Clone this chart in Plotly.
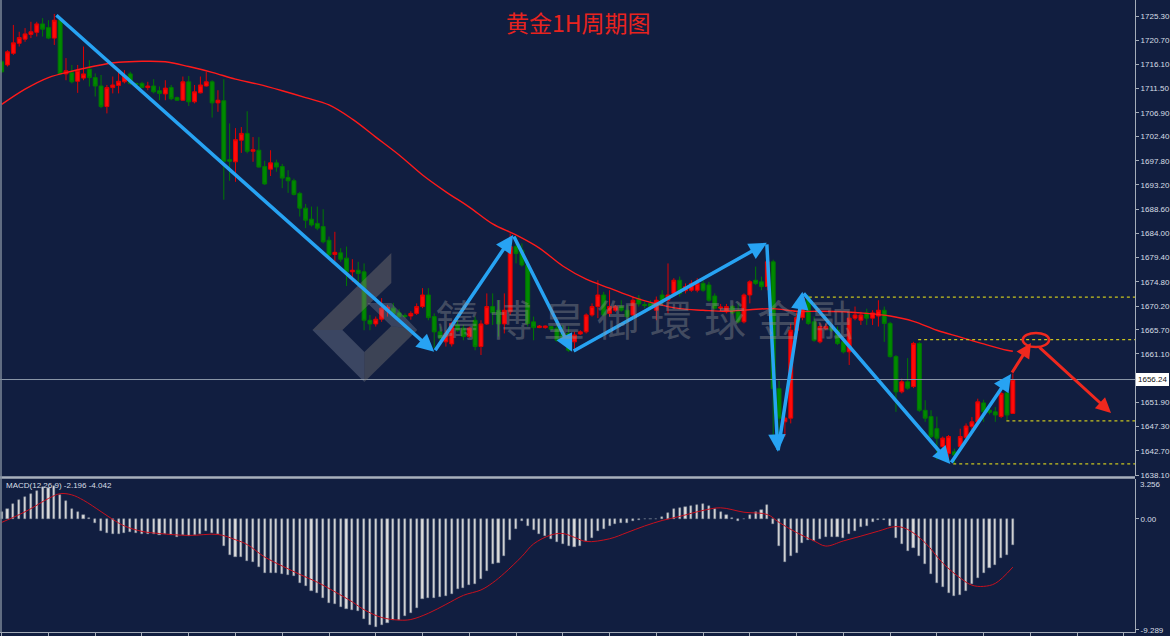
import plotly.graph_objects as go

# ---------------- data ----------------
open_ = [1716.6,1716.0,1718.2,1720.1,1720.9,1721.8,1722.2,1723.8,1723.1,1721.1,
1724.5,1714.3,1714.5,1712.9,1713.5,1715.2,1713.6,1712.0,1708.1,1711.7,
1712.1,1712.8,1714.3,1712.5,1712.5,1711.7,1712.0,1711.1,1710.5,1711.7,
1709.8,1709.3,1712.8,1709.0,1710.7,1712.0,1712.8,1708.8,1709.2,1698.0,
1697.6,1701.7,1703.0,1699.6,1699.8,1696.7,1696.2,1697.4,1696.7,1694.6,
1694.0,1691.6,1688.8,1686.7,1685.9,1685.3,1682.7,1680.0,1680.3,1679.3,
1676.7,1677.0,1676.7,1667.5,1666.8,1667.7,1669.4,1669.8,1668.9,1668.4,
1668.3,1668.8,1670.1,1672.3,1668.2,1665.3,1663.4,1663.0,1666.6,1666.0,
1664.4,1667.5,1662.5,1666.8,1670.1,1669.4,1666.8,1669.1,1681.5,1680.8,
1678.0,1667.2,1666.1,1666.1,1666.3,1666.0,1665.0,1665.0,1663.4,1664.9,
1665.3,1668.5,1670.1,1672.3,1668.8,1669.4,1670.1,1669.4,1668.5,1671.6,
1670.5,1670.7,1669.4,1672.3,1671.3,1672.6,1675.1,1673.1,1673.2,1673.2,
1674.5,1674.2,1672.1,1669.8,1669.1,1670.1,1669.1,1667.2,1672.3,1675.1,
1674.8,1673.9,1678.6,1654.5,1648.2,1648.9,1665.6,1668.0,1671.7,1667.2,
1663.4,1665.9,1666.3,1665.6,1663.4,1661.5,1667.9,1667.5,1668.9,1667.9,
1668.3,1669.4,1666.9,1660.6,1653.9,1655.8,1654.9,1663.1,1650.4,1649.2,
1646.9,1643.5,1642.2,1642.5,1643.5,1645.2,1647.3,1648.2,1651.8,1650.4,
1650.1,1649.2,1653.7,1649.8]

high = [1716.9,1718.8,1723.6,1722.3,1723.0,1724.2,1724.2,1724.9,1724.5,1725.7,
1724.9,1717.3,1716.0,1716.0,1719.5,1716.9,1714.4,1714.1,1712.2,1713.8,
1714.7,1715.0,1714.7,1712.6,1712.8,1712.8,1713.3,1711.9,1713.1,1712.2,
1710.0,1713.8,1713.9,1712.2,1713.8,1714.7,1713.1,1711.2,1713.3,1704.9,
1704.0,1704.2,1707.2,1702.3,1702.3,1697.8,1699.8,1698.0,1697.2,1696.0,
1694.4,1691.9,1689.6,1689.1,1689.1,1688.6,1683.4,1684.3,1681.2,1681.5,
1679.1,1678.6,1678.3,1668.5,1668.2,1671.7,1670.4,1670.8,1669.6,1668.8,
1669.2,1670.7,1673.6,1673.6,1668.8,1666.3,1665.6,1667.2,1667.5,1666.6,
1666.3,1668.2,1667.5,1672.6,1672.6,1671.3,1672.6,1684.0,1683.4,1682.1,
1678.9,1668.2,1666.6,1666.5,1666.4,1666.9,1666.6,1666.3,1665.3,1665.6,
1668.8,1670.7,1675.1,1672.9,1673.2,1670.4,1671.3,1670.4,1672.0,1672.3,
1671.0,1671.3,1672.0,1673.2,1678.3,1675.5,1675.8,1674.5,1675.1,1675.5,
1675.1,1674.8,1672.6,1670.6,1670.6,1670.4,1670.7,1672.6,1675.1,1677.7,
1675.8,1679.3,1679.0,1656.0,1649.2,1666.9,1669.0,1672.6,1672.3,1668.2,
1666.9,1666.9,1666.6,1666.3,1663.7,1668.8,1670.1,1669.1,1669.7,1669.4,
1671.3,1670.1,1667.2,1660.9,1656.4,1660.3,1663.4,1663.4,1652.3,1650.4,
1649.2,1645.4,1645.7,1643.1,1646.9,1647.9,1649.1,1652.6,1652.4,1651.2,
1651.0,1653.9,1653.9,1657.4]

low = [1714.5,1715.7,1717.9,1719.5,1720.4,1721.1,1721.4,1721.4,1720.9,1719.8,
1714.1,1713.1,1712.5,1710.7,1713.1,1711.9,1710.0,1707.8,1706.8,1710.6,
1710.6,1712.5,1712.2,1712.2,1711.6,1711.2,1710.6,1709.3,1709.3,1709.3,
1709.2,1709.2,1708.2,1708.7,1710.6,1711.9,1706.0,1707.1,1690.4,1694.0,
1693.8,1699.3,1699.2,1697.6,1696.5,1693.2,1694.9,1695.7,1692.6,1691.7,
1691.2,1687.2,1685.0,1685.3,1684.6,1682.1,1679.6,1678.6,1678.6,1674.0,
1674.8,1673.9,1665.6,1665.6,1666.3,1667.2,1668.2,1668.2,1667.6,1667.9,
1667.6,1668.5,1669.8,1667.5,1662.2,1663.4,1662.5,1662.5,1665.3,1663.7,
1664.1,1661.8,1660.9,1666.6,1666.6,1664.4,1665.0,1668.5,1678.3,1677.7,
1666.3,1663.7,1666.0,1665.9,1665.6,1663.4,1663.4,1661.5,1661.5,1664.7,
1665.0,1668.2,1667.9,1668.2,1668.2,1669.1,1669.1,1667.5,1668.2,1670.1,
1669.8,1669.4,1667.5,1670.4,1668.8,1672.3,1672.0,1672.6,1672.9,1672.8,
1672.9,1671.0,1669.5,1669.2,1668.8,1668.6,1666.9,1666.9,1670.7,1674.2,
1673.2,1673.2,1644.7,1645.4,1645.4,1647.9,1664.8,1667.5,1666.6,1663.4,
1663.1,1665.6,1665.3,1662.8,1661.2,1659.0,1667.5,1666.6,1666.6,1666.6,
1666.3,1663.4,1660.4,1650.1,1653.6,1654.3,1654.6,1650.1,1648.2,1645.1,
1641.0,1641.6,1640.9,1640.3,1643.2,1645.0,1646.0,1647.9,1648.2,1649.6,
1648.2,1648.9,1648.5,1649.7]

close = [1714.7,1718.5,1720.2,1721.2,1721.9,1722.3,1723.8,1722.8,1721.1,1724.5,
1714.3,1714.9,1712.8,1715.0,1714.3,1713.6,1712.0,1708.1,1711.7,1712.2,
1712.9,1713.8,1712.5,1712.3,1711.7,1712.0,1710.9,1710.6,1711.6,1709.6,
1709.3,1712.8,1709.0,1710.9,1712.2,1712.8,1708.8,1709.3,1697.7,1697.7,
1701.8,1703.0,1699.6,1699.9,1696.6,1693.4,1697.4,1696.6,1694.5,1694.0,
1691.4,1688.8,1686.5,1685.6,1685.0,1682.4,1679.9,1680.4,1679.1,1676.7,
1677.0,1676.4,1667.5,1666.8,1667.7,1669.8,1670.0,1668.8,1668.2,1668.2,
1668.8,1670.1,1672.3,1668.0,1665.3,1664.1,1665.0,1666.9,1665.6,1664.4,
1666.0,1662.5,1666.8,1670.1,1668.9,1666.8,1669.4,1681.5,1680.2,1678.0,
1666.9,1666.1,1666.4,1666.4,1665.8,1663.7,1663.7,1661.8,1664.7,1665.3,
1668.5,1670.1,1672.3,1668.5,1670.1,1670.1,1669.4,1668.2,1671.3,1670.6,
1670.3,1670.1,1671.3,1671.0,1672.3,1675.1,1672.6,1673.9,1674.5,1674.5,
1673.2,1671.3,1669.8,1670.0,1670.1,1668.9,1667.2,1672.3,1674.8,1674.5,
1673.9,1678.6,1654.5,1648.9,1648.9,1665.6,1668.0,1671.7,1666.9,1663.7,
1666.3,1666.3,1665.6,1663.1,1661.5,1667.9,1668.5,1668.5,1667.9,1668.9,
1669.4,1666.9,1660.6,1653.9,1655.8,1654.6,1663.1,1650.4,1648.9,1645.4,
1645.1,1645.1,1645.4,1641.9,1645.4,1647.4,1648.2,1652.0,1650.1,1650.0,
1649.5,1653.6,1649.5,1656.24]

bar_idx = list(range(len(close)))

# moving average
ma_idx = [0,4,8,12,16,20,24,28,32,36,40,44,48,52,56,60,64,68,72,76,80,84,88,92,96,
          100,104,108,112,116,120,124,128,132,136,140,144,148,152,156,160,164,168,172,173]
ma_val = [1708.5,1711.4,1713.6,1714.8,1715.8,1716.5,1716.7,1716.6,1715.7,1714.6,1713.3,
          1712.3,1711.1,1709.8,1708.4,1705.7,1702.3,1698.9,1695.1,1691.9,1689.0,1685.8,
          1683.7,1681.2,1677.8,1675.3,1673.6,1671.9,1670.6,1669.7,1669.4,1669.2,1669.5,
          1669.7,1669.2,1669.2,1669.1,1668.8,1668.3,1667.3,1665.6,1664.3,1663.0,1661.8,1661.6]

# MACD main (histogram) and signal
macd = [0.53,0.81,1.22,1.56,1.84,2.1,2.34,2.67,2.6,2.76,
1.98,1.48,0.86,0.53,0.36,0.08,-0.36,-1.0,-1.2,-1.3,
-1.3,-1.17,-1.11,-1.17,-1.23,-1.25,-1.31,-1.39,-1.31,-1.39,
-1.53,-1.39,-1.45,-1.39,-1.23,-1.03,-1.17,-1.31,-2.28,-3.0,
-3.2,-3.2,-3.54,-3.62,-4.0,-4.5,-4.5,-4.5,-4.65,-4.74,
-4.79,-5.35,-5.63,-6.04,-6.24,-6.6,-7.02,-7.16,-7.38,-7.58,
-7.6,-7.7,-8.4,-8.9,-9.05,-8.9,-8.69,-8.47,-8.47,-8.13,
-7.86,-7.44,-6.74,-6.6,-6.6,-6.52,-6.46,-6.32,-5.9,-5.77,
-5.57,-5.49,-5.01,-4.37,-3.82,-3.68,-3.12,-1.78,-0.84,-0.2,
-0.61,-0.95,-1.23,-1.45,-1.67,-1.92,-2.14,-2.28,-2.34,-2.28,
-1.87,-1.59,-1.03,-0.89,-0.61,-0.47,-0.39,-0.39,-0.17,-0.06,
-0.04,-0.04,-0.03,0.17,0.45,0.78,0.89,1.0,1.06,1.17,
1.23,1.06,0.84,0.56,0.36,0.08,-0.2,-0.05,0.28,0.56,
0.72,1.17,-0.47,-2.28,-3.62,-3.12,-2.84,-2.06,-1.81,-1.87,
-1.67,-1.5,-1.5,-1.53,-1.62,-1.31,-1.03,-0.67,-0.56,-0.28,
-0.11,-0.11,-0.61,-1.59,-2.14,-2.7,-2.42,-3.12,-3.82,-4.65,
-5.4,-5.71,-6.18,-6.46,-6.4,-6.04,-5.49,-4.93,-4.57,-4.09,
-3.9,-3.26,-3.06,-2.196]

sig_idx = [0,3,5,8,10,12,14,17,19,21,24,27,32,37,40,42,45,48,51,54,57,60,62,65,68,70,73,76,
           79,82,84,86,89,91,94,96,98,100,104,107,110,113,116,120,123,127,131,133,136,139,
           141,144,147,150,153,155,158,161,164,166,168,170,173]
sig_val = [-0.3,0.35,0.85,1.7,2.1,2.0,1.55,0.6,-0.05,-0.6,-1.05,-1.23,-1.39,-1.31,-1.75,-2.15,
           -3.2,-3.95,-4.65,-5.3,-6.1,-6.95,-7.6,-8.25,-8.47,-8.42,-7.9,-7.16,-6.4,-5.95,-5.35,
           -4.55,-3.15,-2.1,-1.35,-1.23,-1.55,-1.9,-1.67,-1.15,-0.6,-0.14,0.2,0.7,0.92,0.55,
           0.36,-0.3,-1.15,-1.85,-2.28,-1.85,-1.45,-1.03,-0.65,-0.89,-2.0,-3.7,-4.95,-5.55,
           -5.65,-5.4,-4.042]

price_ticks = [1725.30,1720.70,1716.10,1711.50,1706.90,1702.40,1697.80,1693.20,1688.60,
               1684.00,1679.40,1674.80,1670.20,1665.70,1661.10,1651.90,1647.30,1642.70,1638.10]
macd_ticks = [0.0, -9.289]
macd_tick_text = ["0.00", "-9.289"]
macd_max_label = "3.256"
current_price = 1656.24
title_text = "黄金1H周期图"
macd_label = "MACD(12,26,9) -2.196 -4.042"
watermark_chars = ["鑄", "博", "皇", "御", "環", "球", "金", "融"]

# analyst drawings: (x_idx, price) tail -> head
blue_arrows = [((9.1,1725.7),(74.0,1661.5)), ((74.0,1661.5),(87.5,1683.7)),
               ((87.5,1683.7),(97.6,1661.5)), ((97.6,1661.5),(130.9,1682.2)),
               ((130.9,1682.2),(132.8,1642.5)), ((132.8,1642.5),(137.0,1672.9)),
               ((137.0,1672.9),(162.3,1640.2)), ((162.3,1640.2),(172.7,1657.3))]
red_arrows = [((172.7,1657.3),(176.1,1663.2)), ((177.3,1662.6),(189.8,1649.9))]
red_ellipse = (174.7, 179.2, 1662.4, 1665.1)
yellow_levels = [(138.1,1671.9),(156.8,1663.8),(171.9,1648.4),(162.8,1640.2)]

# ---------------- layout geometry ----------------
W, H = 1170, 636
MR, MB = 33, 4
PW, PH = W - MR, H - MB
X_RANGE = [-0.29, 193.9]
Y_RANGE = [1637.91, 1728.34]
M_RANGE = [-9.465, 3.328]

def px(x, y):
    return x / PW, (PH - y) / PH

BG = "#111E40"
AX = "#A4ACB8"
TXT = "#D8DEE6"

fig = go.Figure()

fig.add_trace(go.Candlestick(
    x=bar_idx, open=open_, high=high, low=low, close=close,
    increasing=dict(line=dict(color="#E00000", width=1), fillcolor="#FF0A0A"),
    decreasing=dict(line=dict(color="#007A00", width=1), fillcolor="#008A00"),
    whiskerwidth=0, xaxis="x", yaxis="y", hoverinfo="skip", showlegend=False))

fig.add_trace(go.Scatter(x=ma_idx, y=ma_val, mode="lines",
                         line=dict(color="#FF1A1A", width=1.4, shape="spline"),
                         xaxis="x", yaxis="y", showlegend=False, hoverinfo="skip"))

fig.add_trace(go.Bar(x=bar_idx, y=macd, width=0.36, xaxis="x", yaxis="y2",
                     marker=dict(color="#DCDCDC", line=dict(color="#7A8494", width=0.5)),
                     showlegend=False, hoverinfo="skip"))

fig.add_trace(go.Scatter(x=sig_idx, y=sig_val, mode="lines",
                         line=dict(color="#C8101E", width=1, shape="spline"),
                         xaxis="x", yaxis="y2", showlegend=False, hoverinfo="skip"))

shapes = []
shapes.append(dict(type="line", xref="paper", yref="y", x0=0, x1=1,
                   y0=current_price, y1=current_price, line=dict(color="#8C98A8", width=1)))
for x0, lv in yellow_levels:
    shapes.append(dict(type="line", xref="x", yref="y", x0=x0, x1=X_RANGE[1], y0=lv, y1=lv,
                       line=dict(color="#C8C41E", width=1.2, dash="dot")))
e = red_ellipse
shapes.append(dict(type="circle", xref="x", yref="y", x0=e[0], x1=e[1], y0=e[2], y1=e[3],
                   line=dict(color="#F0281E", width=2.5)))
_, sy = px(0, 477.5)
shapes.append(dict(type="line", xref="paper", yref="paper", x0=0, x1=1, y0=sy, y1=sy,
                   line=dict(color="#A8B0BC", width=2.5)))
lx, _ = px(1, 0)
shapes.append(dict(type="line", xref="paper", yref="paper", x0=lx, x1=lx, y0=0, y1=1,
                   line=dict(color="#7C8898", width=1.5)))

def poly(points, color):
    pts = [px(x, y) for x, y in points]
    path = "M " + " L ".join(f"{a:.5f},{b:.5f}" for a, b in pts) + " Z"
    return dict(type="path", xref="paper", yref="paper", path=path,
                fillcolor=color, line=dict(width=0), layer="above")

shapes.append(poly([(392, 253), (392, 283), (343, 330), (313, 330)], "rgba(120,116,112,0.45)"))
shapes.append(poly([(313, 330), (343, 330), (365, 352), (365, 382)], "rgba(150,155,170,0.32)"))
shapes.append(poly([(365, 382), (365, 352), (392, 326), (418, 330)], "rgba(125,122,118,0.40)"))
shapes.append(poly([(368, 303), (392, 303), (418, 330), (392, 326)], "rgba(150,155,170,0.30)"))

annotations = []
for (tx, ty), (hx, hy) in blue_arrows:
    annotations.append(dict(x=hx, y=hy, ax=tx, ay=ty, xref="x", yref="y", axref="x", ayref="y",
                            text="", showarrow=True, arrowhead=2, arrowsize=1, arrowwidth=3.5,
                            arrowcolor="#27A3F3", standoff=0))
for (tx, ty), (hx, hy) in red_arrows:
    annotations.append(dict(x=hx, y=hy, ax=tx, ay=ty, xref="x", yref="y", axref="x", ayref="y",
                            text="", showarrow=True, arrowhead=2, arrowsize=1, arrowwidth=3,
                            arrowcolor="#F0281E", standoff=0))

tx_, ty_ = px(580, 22)
annotations.append(dict(x=tx_, y=ty_, xref="paper", yref="paper", text=title_text, showarrow=False,
                        font=dict(family="Noto Sans CJK SC", size=23, color="#E8231E"),
                        xanchor="center", yanchor="middle"))
for k, ch in enumerate(watermark_chars):
    wx, wy = px(458 + 53.6 * k, 317)
    annotations.append(dict(x=wx, y=wy, xref="paper", yref="paper", text=ch, showarrow=False,
                            font=dict(family="Noto Sans CJK TC", size=42,
                                      color="rgba(150,150,150,0.38)"),
                            xanchor="center", yanchor="middle"))
mx, my = px(4, 485)
annotations.append(dict(x=mx, y=my, xref="paper", yref="paper", text=macd_label, showarrow=False,
                        font=dict(family="Liberation Sans", size=8, color=TXT),
                        xanchor="left", yanchor="middle"))
_, ly = px(0, 484)
annotations.append(dict(x=1, y=ly, xref="paper", yref="paper", text=macd_max_label, showarrow=False,
                        xanchor="left", yanchor="middle", xshift=3,
                        font=dict(family="Liberation Sans", size=8, color=TXT)))
annotations.append(dict(x=1, y=current_price, xref="paper", yref="y", text=f"{current_price:.2f}",
                        showarrow=False, xanchor="left", yanchor="middle", xshift=1,
                        bgcolor="#FFFFFF", bordercolor="#FFFFFF", borderpad=1,
                        font=dict(family="Liberation Sans", size=8, color="#101010")))

main_bottom = (PH - 476) / PH
macd_top = (PH - 479) / PH

fig.update_layout(
    width=W, height=H,
    margin=dict(l=0, r=MR, t=0, b=MB, pad=0),
    paper_bgcolor=BG, plot_bgcolor=BG,
    showlegend=False, bargap=0, boxgap=0.05, boxgroupgap=0.3,
    shapes=shapes, annotations=annotations,
    xaxis=dict(range=X_RANGE, anchor="y2", showgrid=False, zeroline=False,
               rangeslider=dict(visible=False), ticks="outside", tickmode="array",
               tickvals=list(range(0, 194, 8)), ticklen=4, tickcolor=AX,
               showticklabels=False, showline=True, linecolor=AX, linewidth=1),
    yaxis=dict(domain=[main_bottom, 1], range=Y_RANGE, side="right", anchor="x",
               showgrid=False, zeroline=False, tickmode="array", tickvals=price_ticks,
               ticktext=[f"{v:.2f}" for v in price_ticks], ticks="outside", ticklen=3,
               tickcolor=AX, showline=True, linecolor=AX, linewidth=1,
               tickfont=dict(family="Liberation Sans", size=8, color=TXT)),
    yaxis2=dict(domain=[0, macd_top], range=M_RANGE, side="right", anchor="x",
                showgrid=False, zeroline=False, tickmode="array", tickvals=macd_ticks,
                ticktext=macd_tick_text, ticks="outside", ticklen=3, tickcolor=AX,
                showline=True, linecolor=AX, linewidth=1,
                tickfont=dict(family="Liberation Sans", size=8, color=TXT)),
)

fig.write_html("out.html")
